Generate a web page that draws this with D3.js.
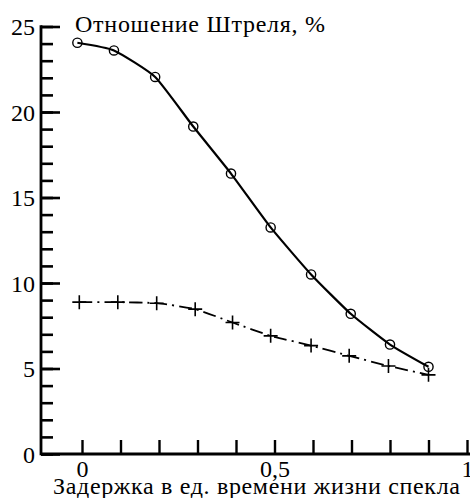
<!DOCTYPE html>
<html>
<head>
<meta charset="utf-8">
<script src="https://cdn.jsdelivr.net/npm/d3@7"></script>
<style>
  body { margin: 0; background: #fff; }
</style>
</head>
<body>
<div id="chart"></div>
<script>
// circles: with correction, crosses: without
var delayO = [-0.012, 0.083, 0.19, 0.289, 0.387, 0.49, 0.595, 0.698, 0.8, 0.9];
var strehlO = [24.05, 23.6, 22.05, 19.15, 16.4, 13.25, 10.5, 8.2, 6.4, 5.1];
var delayX = [-0.007, 0.093, 0.194, 0.294, 0.391, 0.49, 0.595, 0.694, 0.796, 0.9];
var strehlX = [8.88, 8.88, 8.82, 8.47, 7.69, 6.91, 6.34, 5.74, 5.15, 4.63];

var yMajor = [0, 5, 10, 15, 20, 25];
var yMinor = d3.range(0, 26, 1);
var xMajor = [0, 0.5, 1];
var xMajorLabels = ["0", "0,5", "1"];
var xMinor = d3.range(0, 11).map(d => d / 10);

var W = 470, H = 498;
var FONT = "'Liberation Serif'";

var svg = d3.select("#chart").append("svg")
  .attr("width", W)
  .attr("height", H);

var x = d3.scaleLinear().domain([0, 1]).range([82, 467]);
var y = d3.scaleLinear().domain([0, 25]).range([454, 26.5]);
var axisX0 = 41;

// y axis: minor then major ticks pointing inward
svg.append("g")
  .attr("transform", `translate(${axisX0},0)`)
  .call(d3.axisLeft(y).tickValues(yMinor).tickSize(-12).tickSizeOuter(0).tickFormat(""))
  .call(g => g.select(".domain").remove())
  .call(g => g.selectAll(".tick line").attr("stroke-width", 2.6));

svg.append("g")
  .attr("transform", `translate(${axisX0},0)`)
  .call(d3.axisLeft(y).tickValues(yMajor).tickSize(-19).tickSizeOuter(0).tickPadding(6))
  .call(g => g.select(".domain").remove())
  .call(g => g.selectAll(".tick line").attr("stroke-width", 2.6))
  .call(g => g.selectAll(".tick text")
    .style("font-family", FONT)
    .style("font-size", "24px")
    .attr("dy", "0.35em"));

// x axis
svg.append("g")
  .attr("transform", `translate(0,${y(0)})`)
  .call(d3.axisBottom(x).tickValues(xMinor).tickSize(-14).tickSizeOuter(0).tickFormat(""))
  .call(g => g.select(".domain").remove())
  .call(g => g.selectAll(".tick line").attr("stroke-width", 2.4));

svg.append("g")
  .attr("transform", `translate(0,${y(0)})`)
  .call(d3.axisBottom(x).tickValues(xMajor).tickSize(0).tickPadding(6)
    .tickFormat((d, i) => xMajorLabels[i]))
  .call(g => g.select(".domain").remove())
  .call(g => g.selectAll(".tick text")
    .style("font-family", FONT)
    .style("font-size", "24px"));

// axis lines
svg.append("line")
  .attr("x1", axisX0).attr("x2", axisX0)
  .attr("y1", y(25) - 1.3).attr("y2", y(0) + 1.3)
  .attr("stroke", "#000").attr("stroke-width", 2.8);
svg.append("line")
  .attr("x1", axisX0).attr("x2", W)
  .attr("y1", y(0)).attr("y2", y(0))
  .attr("stroke", "#000").attr("stroke-width", 2.8);

// series
var ptsO = delayO.map((d, i) => [d, strehlO[i]]);
var ptsX = delayX.map((d, i) => [d, strehlX[i]]);

var line = d3.line()
  .x(d => x(d[0]))
  .y(d => y(d[1]))
  .curve(d3.curveCardinal.tension(0.5));

svg.append("path")
  .datum(ptsX)
  .attr("d", line)
  .attr("fill", "none")
  .attr("stroke", "#000")
  .attr("stroke-width", 1.8)
  .attr("stroke-dasharray", "13,5,2,5");

svg.append("path")
  .datum(ptsO)
  .attr("d", line)
  .attr("fill", "none")
  .attr("stroke", "#000")
  .attr("stroke-width", 2.2);

svg.selectAll("circle.o")
  .data(ptsO)
  .enter()
  .append("circle")
  .attr("class", "o")
  .attr("cx", d => x(d[0]))
  .attr("cy", d => y(d[1]))
  .attr("r", 4.6)
  .attr("fill", "none")
  .attr("stroke", "#000")
  .attr("stroke-width", 1.4);

svg.selectAll("path.cross")
  .data(ptsX)
  .enter()
  .append("path")
  .attr("class", "cross")
  .attr("d", d => {
    var cx = x(d[0]), cy = y(d[1]);
    return `M${cx - 7},${cy}H${cx + 7}M${cx},${cy - 7}V${cy + 7}`;
  })
  .attr("stroke", "#000")
  .attr("stroke-width", 1.6);

// titles
svg.append("text")
  .attr("x", 75)
  .attr("y", 32)
  .attr("textLength", 250)
  .attr("lengthAdjust", "spacing")
  .style("font-family", FONT)
  .style("font-size", "24px")
  .text("Отношение Штреля, %");

svg.append("text")
  .attr("x", 53)
  .attr("y", 494)
  .attr("textLength", 407)
  .attr("lengthAdjust", "spacing")
  .style("font-family", FONT)
  .style("font-size", "24px")
  .text("Задержка в ед. времени жизни спекла");
</script>
</body>
</html>
